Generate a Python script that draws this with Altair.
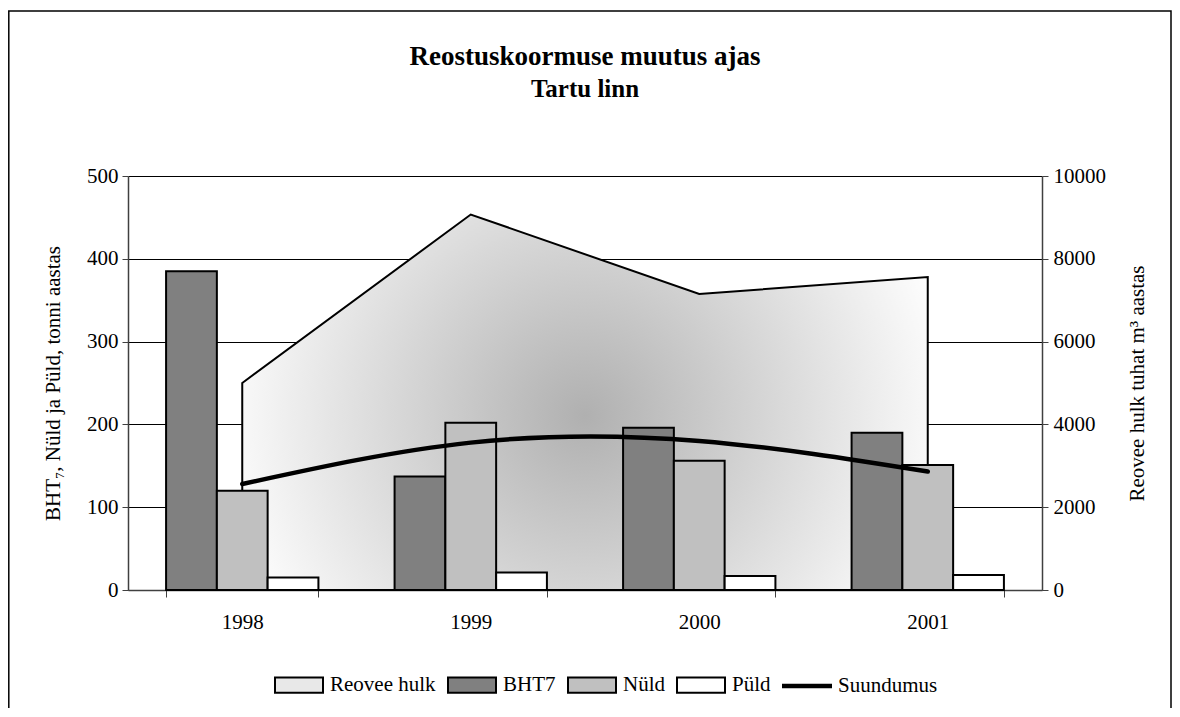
import altair as alt
import pandas as pd

# ---- data ----
years = ["1998", "1999", "2000", "2001"]
bht7 = [385, 137, 196, 190]
nuld = [120, 202, 156, 151]
puld = [15, 21, 17, 18]
reovee_hulk = [5000, 9070, 7150, 7560]      # right axis, tuhat m3
suundumus = [128, 178, 180, 143]            # trend line, left axis units

bar_series = ["BHT7", "Nüld", "Püld"]
legend_names = ["Reovee hulk", "BHT7", "Nüld", "Püld", "Suundumus"]
legend_fills = ["#e8e8e8", "#808080", "#c0c0c0", "#ffffff", "#000000"]
legend_strokes = ["#000000"] * 5
rect_path = "M-1,-0.32H1V0.32H-1Z"
line_path = "M-1,-0.05H1V0.05H-1Z"
legend_shapes = [rect_path, rect_path, rect_path, rect_path, line_path]

left_ticks = [0, 100, 200, 300, 400, 500]
right_ticks = [0, 2000, 4000, 6000, 8000, 10000]

FONT = "Liberation Serif"
FS = 21

bars_df = pd.DataFrame({
    "year": years * 3,
    "series": [s for s in bar_series for _ in years],
    "value": bht7 + nuld + puld,
})
area_df = pd.DataFrame({"year": years, "value": reovee_hulk})
trend_df = pd.DataFrame({"year": years, "value": suundumus})
legend_df = pd.DataFrame({"series": legend_names})

xscale = alt.Scale(type="band", domain=years, paddingInner=1 / 3, paddingOuter=1 / 6)
x_axis = alt.Axis(title=None, tickBand="extent", labelFont=FONT, labelFontSize=FS,
                  labelColor="black", labelPadding=14, tickSize=7, tickColor="#404040",
                  domainColor="#404040", domainWidth=1.5, labelAngle=0, grid=False)

left_axis = alt.Axis(values=left_ticks, grid=True, gridColor="black", gridWidth=1,
                     title="BHT₇, Nüld ja Püld, tonni aastas", titleFont=FONT,
                     titleFontSize=FS, titleFontWeight="normal", titleColor="black",
                     titlePadding=23, labelFont=FONT, labelFontSize=FS, labelColor="black",
                     labelPadding=4, tickSize=6, tickColor="#404040",
                     domainColor="#404040", domainWidth=1.5)
right_axis = alt.Axis(orient="right", values=right_ticks, format="d", grid=False,
                      title="Reovee hulk tuhat m³ aastas", titleAngle=270, titleFont=FONT,
                      titleFontSize=FS, titleFontWeight="normal", titleColor="black",
                      titlePadding=42, labelFont=FONT, labelFontSize=FS, labelColor="black",
                      labelPadding=5, tickSize=6, tickColor="#404040",
                      domainColor="#404040", domainWidth=1.5)

gradient = alt.Gradient(
    gradient="radial",
    stops=[alt.GradientStop(color="#b0b0b0", offset=0),
           alt.GradientStop(color="#ffffff", offset=1)],
    x1=0.5, y1=0.52, r1=0, x2=0.5, y2=0.52, r2=0.55,
)

area = alt.Chart(area_df).mark_area(fill=gradient, stroke="black", strokeWidth=2).encode(
    x=alt.X("year:N", scale=xscale, axis=x_axis, bandPosition=0.5),
    y=alt.Y("value:Q", scale=alt.Scale(domain=[0, 10000], nice=False), axis=right_axis),
)

leg_spec = dict(title=None, orient="none", legendX=146, legendY=484, direction="horizontal",
                columns=5, symbolSize=2304, symbolOpacity=1, symbolStrokeWidth=2,
                labelFont=FONT, labelFontSize=FS, labelColor="black", labelOffset=6,
                columnPadding=8, padding=0)

fill_enc = alt.Fill("series:N", scale=alt.Scale(domain=legend_names, range=legend_fills),
                    legend=alt.Legend(**leg_spec))

bars = alt.Chart(bars_df).mark_bar(stroke="black", strokeWidth=2).encode(
    x=alt.X("year:N", scale=xscale, axis=x_axis),
    xOffset=alt.XOffset("series:N", scale=alt.Scale(domain=bar_series, paddingInner=0, paddingOuter=0)),
    y=alt.Y("value:Q", scale=alt.Scale(domain=[0, 500], nice=False), axis=left_axis),
    fill=fill_enc,
)

trend = alt.Chart(trend_df).mark_line(color="black", strokeWidth=4.5, interpolate="natural",
                                       strokeCap="round").encode(
    x=alt.X("year:N", scale=xscale, axis=x_axis, bandPosition=0.5),
    y=alt.Y("value:Q", scale=alt.Scale(domain=[0, 500], nice=False), axis=None),
)

# invisible points that only carry the legend (fill + stroke + shape merged)
legend_layer = alt.Chart(legend_df).mark_point(
    filled=True, strokeWidth=2, opacity=0).encode(
    fill=fill_enc,
    stroke=alt.Stroke("series:N", scale=alt.Scale(domain=legend_names, range=legend_strokes),
                      legend=alt.Legend(**leg_spec)),
    shape=alt.Shape("series:N", scale=alt.Scale(domain=legend_names, range=legend_shapes),
                    legend=alt.Legend(**leg_spec)),
)

border = alt.Chart(alt.Data(values=[{}])).mark_rect(
    fill="transparent", stroke="black", strokeWidth=1.5).encode(
    x=alt.value(-119.2), x2=alt.value(1043), y=alt.value(-165), y2=alt.value(560),
)

chart = alt.layer(area, bars, trend, legend_layer, border).resolve_scale(
    y="independent"
).properties(
    width=914, height=414,
    autosize=alt.AutoSizeParams(type="none"),
    padding={"left": 120, "top": 168, "right": 130, "bottom": 118},
    title=alt.TitleParams(text="Reostuskoormuse muutus ajas", subtitle="Tartu linn",
                          font=FONT, fontSize=27, fontWeight="bold", color="black",
                          subtitleFont=FONT, subtitleFontSize=25, subtitleFontWeight="bold",
                          subtitleColor="black", subtitlePadding=6, anchor="middle",
                          frame="group", offset=-93),
).configure(
    background="white", font=FONT
).configure_view(
    stroke=None
).configure_axis(
    labelFont=FONT, titleFont=FONT
).configure_legend(
    labelFont=FONT, titleFont=FONT
)

chart.save("out.html", embed_options={"renderer": "svg", "actions": False})
